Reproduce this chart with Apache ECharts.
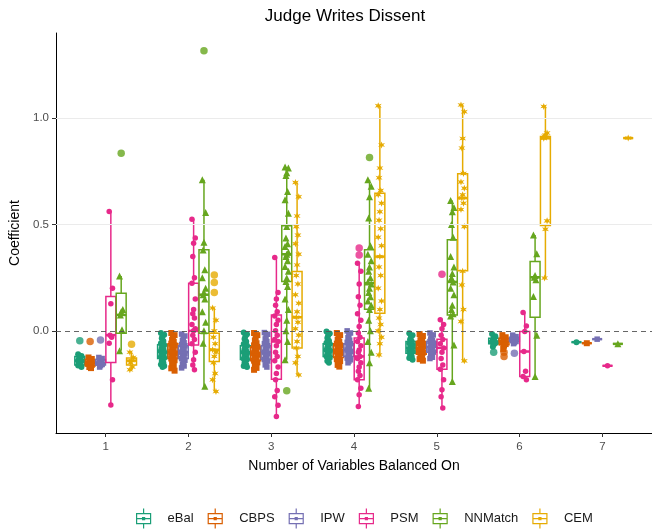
<!DOCTYPE html>
<html><head><meta charset="utf-8">
<script src="https://cdn.jsdelivr.net/npm/echarts@6/dist/echarts.min.js"></script>
<style>html,body{margin:0;padding:0;background:#fff}#c{width:652px;height:532px}</style>
</head><body><div id="c"></div>
<script>
// ---------- data ----------
const categories = [1, 2, 3, 4, 5, 6, 7];
const methods = ['eBal', 'CBPS', 'IPW', 'PSM', 'NNMatch', 'CEM'];
const yTickValues = [0, 0.5, 1.0];
const gridLineValues = [0.5, 1.0];
const refLineValue = 0;

// box stats per category: [lower whisker, Q1, median, Q3, upper whisker]
const eBalBox = [[-0.17,-0.16,-0.14,-0.12,-0.11],[-0.17,-0.13,-0.10,-0.065,-0.01],[-0.17,-0.135,-0.10,-0.07,-0.008],[-0.15,-0.12,-0.09,-0.06,-0.003],[-0.136,-0.105,-0.08,-0.05,-0.011],[-0.075,-0.06,-0.05,-0.035,-0.015],[-0.053,-0.053,-0.053,-0.053,-0.053]];
const CBPSBox = [[-0.175,-0.165,-0.15,-0.135,-0.125],[-0.187,-0.13,-0.10,-0.06,-0.01],[-0.183,-0.14,-0.105,-0.075,-0.01],[-0.168,-0.125,-0.09,-0.06,-0.01],[-0.14,-0.11,-0.08,-0.05,-0.015],[-0.085,-0.065,-0.05,-0.035,-0.02],[-0.058,-0.058,-0.058,-0.058,-0.058]];
const IPWBox = [[-0.17,-0.16,-0.15,-0.135,-0.125],[-0.174,-0.13,-0.10,-0.07,-0.015],[-0.17,-0.135,-0.10,-0.07,-0.008],[-0.15,-0.12,-0.09,-0.06,0.0],[-0.13,-0.10,-0.075,-0.05,-0.01],[-0.06,-0.05,-0.04,-0.03,-0.02],[-0.039,-0.039,-0.039,-0.039,-0.039]];
const PSMBox = [[-0.348,-0.149,-0.02,0.161,0.561],[-0.183,-0.066,0.0,0.224,0.525],[-0.402,-0.227,-0.05,0.075,0.345],[-0.356,-0.23,-0.12,-0.034,0.318],[-0.363,-0.18,-0.08,-0.039,0.052],[-0.23,-0.215,-0.097,-0.003,0.086],[-0.164,-0.164,-0.164,-0.164,-0.164]];
const NNMatchBox = [[-0.093,-0.011,0.075,0.177,0.258],[-0.26,-0.011,0.17,0.381,0.71],[-0.136,0.232,0.36,0.494,0.77],[-0.27,0.102,0.224,0.381,0.71],[-0.238,0.075,0.23,0.428,0.613],[-0.215,0.064,0.252,0.326,0.451],[-0.061,-0.061,-0.061,-0.061,-0.061]];
const CEMBox = [[-0.183,-0.16,-0.14,-0.127,-0.10],[-0.285,-0.144,-0.089,-0.011,0.107],[-0.207,-0.081,0.064,0.279,0.697],[-0.113,0.083,0.349,0.647,1.058],[-0.141,0.283,0.624,0.738,1.062],[0.248,0.495,0.905,0.914,1.055],[0.906,0.906,0.906,0.906,0.906]];

// individual estimates per category
const eBalPoints = [
  [-0.11,-0.118,-0.125,-0.13,-0.135,-0.14,-0.142,-0.148,-0.152,-0.158,-0.163,-0.17],
  [-0.01,-0.018,-0.025,-0.035,-0.048,-0.058,-0.066,-0.072,-0.08,-0.088,-0.094,-0.1,-0.104,-0.11,-0.116,-0.122,-0.127,-0.134,-0.142,-0.15,-0.158,-0.165,-0.17],
  [-0.008,-0.016,-0.026,-0.038,-0.05,-0.062,-0.07,-0.078,-0.086,-0.093,-0.1,-0.106,-0.112,-0.118,-0.125,-0.131,-0.135,-0.142,-0.15,-0.158,-0.165,-0.17],
  [-0.003,-0.012,-0.022,-0.034,-0.046,-0.056,-0.062,-0.07,-0.078,-0.085,-0.09,-0.096,-0.102,-0.108,-0.114,-0.12,-0.127,-0.135,-0.142,-0.15],
  [-0.011,-0.02,-0.03,-0.04,-0.05,-0.058,-0.065,-0.072,-0.08,-0.086,-0.092,-0.098,-0.105,-0.112,-0.12,-0.128,-0.136],
  [-0.015,-0.025,-0.035,-0.042,-0.048,-0.052,-0.058,-0.065,-0.075],
  [-0.053]
];
const CBPSPoints = [
  [-0.125,-0.132,-0.138,-0.145,-0.15,-0.155,-0.16,-0.165,-0.17,-0.175],
  [-0.01,-0.02,-0.03,-0.042,-0.052,-0.06,-0.068,-0.076,-0.085,-0.092,-0.1,-0.106,-0.112,-0.12,-0.126,-0.13,-0.138,-0.146,-0.155,-0.165,-0.176,-0.187],
  [-0.01,-0.02,-0.032,-0.045,-0.058,-0.068,-0.075,-0.083,-0.09,-0.098,-0.105,-0.112,-0.12,-0.128,-0.135,-0.14,-0.148,-0.156,-0.165,-0.174,-0.183],
  [-0.01,-0.02,-0.03,-0.042,-0.052,-0.06,-0.068,-0.076,-0.084,-0.09,-0.097,-0.104,-0.112,-0.12,-0.125,-0.133,-0.142,-0.15,-0.16,-0.168],
  [-0.015,-0.024,-0.034,-0.044,-0.05,-0.058,-0.066,-0.074,-0.08,-0.087,-0.094,-0.102,-0.11,-0.118,-0.126,-0.133,-0.14],
  [-0.02,-0.03,-0.038,-0.045,-0.05,-0.055,-0.062,-0.07,-0.085],
  [-0.058]
];
const IPWPoints = [
  [-0.125,-0.13,-0.136,-0.142,-0.148,-0.152,-0.158,-0.163,-0.17],
  [-0.015,-0.024,-0.034,-0.045,-0.056,-0.064,-0.07,-0.078,-0.086,-0.093,-0.1,-0.106,-0.112,-0.12,-0.126,-0.13,-0.138,-0.147,-0.156,-0.165,-0.174],
  [-0.008,-0.016,-0.026,-0.038,-0.05,-0.06,-0.07,-0.078,-0.086,-0.093,-0.1,-0.107,-0.114,-0.12,-0.128,-0.135,-0.142,-0.15,-0.16,-0.17],
  [0.0,-0.01,-0.02,-0.032,-0.044,-0.054,-0.06,-0.068,-0.076,-0.084,-0.09,-0.097,-0.104,-0.112,-0.12,-0.128,-0.136,-0.143,-0.15],
  [-0.01,-0.019,-0.028,-0.038,-0.046,-0.05,-0.058,-0.066,-0.075,-0.082,-0.09,-0.1,-0.108,-0.116,-0.124,-0.13],
  [-0.02,-0.027,-0.033,-0.038,-0.042,-0.046,-0.05,-0.055,-0.06],
  [-0.039]
];
const PSMPoints = [
  [0.561,0.20,0.127,-0.02,-0.03,-0.058,-0.23,-0.348],
  [0.525,0.436,0.412,0.35,0.25,0.224,0.15,0.1,0.08,0.06,0.03,0.01,0.0,-0.02,-0.04,-0.06,-0.1,-0.136,-0.16,-0.183],
  [0.345,0.18,0.15,0.12,0.09,0.07,0.05,0.03,0.0,-0.02,-0.04,-0.05,-0.07,-0.1,-0.12,-0.14,-0.17,-0.2,-0.23,-0.28,-0.31,-0.35,-0.402],
  [0.318,0.28,0.22,0.16,0.12,0.08,0.05,0.02,-0.01,-0.03,-0.05,-0.07,-0.09,-0.1,-0.12,-0.13,-0.15,-0.17,-0.19,-0.21,-0.23,-0.27,-0.3,-0.356],
  [0.052,0.03,0.01,-0.02,-0.04,-0.06,-0.08,-0.1,-0.13,-0.16,-0.18,-0.23,-0.277,-0.31,-0.363],
  [0.086,0.023,-0.003,-0.097,-0.19,-0.215,-0.23],
  [-0.164]
];
const NNMatchPoints = [
  [0.258,0.10,0.09,0.075,0.005,-0.093],
  [0.71,0.556,0.417,0.38,0.287,0.25,0.2,0.18,0.17,0.15,0.09,0.04,0.0,-0.058,-0.26],
  [0.77,0.765,0.743,0.73,0.655,0.616,0.553,0.49,0.437,0.41,0.396,0.37,0.36,0.349,0.33,0.302,0.28,0.248,0.232,0.208,0.15,0.1,0.05,0.0,-0.05,-0.136],
  [0.71,0.68,0.63,0.53,0.4,0.36,0.33,0.3,0.28,0.25,0.23,0.22,0.2,0.18,0.16,0.14,0.12,0.1,0.05,0.0,-0.05,-0.1,-0.15,-0.27],
  [0.613,0.58,0.56,0.5,0.44,0.35,0.3,0.27,0.25,0.23,0.2,0.17,0.12,0.1,0.08,0.07,-0.066,-0.238],
  [0.451,0.362,0.26,0.252,0.24,0.161,-0.02,-0.215],
  [-0.061]
];
const CEMPoints = [
  [-0.10,-0.125,-0.14,-0.15,-0.17,-0.183],
  [0.107,0.05,0.0,-0.03,-0.06,-0.089,-0.1,-0.12,-0.15,-0.2,-0.23,-0.285],
  [0.697,0.63,0.54,0.49,0.45,0.41,0.36,0.31,0.26,0.22,0.17,0.13,0.09,0.064,0.04,0.01,-0.02,-0.05,-0.08,-0.12,-0.15,-0.207],
  [1.058,0.874,0.765,0.72,0.66,0.64,0.6,0.56,0.52,0.48,0.44,0.4,0.349,0.3,0.26,0.2,0.14,0.1,0.06,0.03,0.0,-0.03,-0.06,-0.113],
  [1.062,1.03,0.904,0.859,0.74,0.7,0.67,0.64,0.624,0.6,0.57,0.49,0.28,0.216,0.1,0.044,-0.141],
  [1.055,0.93,0.92,0.915,0.91,0.905,0.517,0.478,0.248],
  [0.906]
];

// boxplot outliers per category
const eBalOutliers = [[-0.047],[],[],[],[],[-0.10],[]];
const CBPSOutliers = [[-0.05],[],[],[],[],[-0.10,-0.12],[]];
const IPWOutliers = [[-0.043],[],[],[],[],[-0.105],[]];
const PSMOutliers = [[],[],[],[0.39,0.357],[0.266],[],[]];
const NNMatchOutliers = [[0.835],[1.316],[-0.282],[0.815],[],[],[]];
const CEMOutliers = [[-0.063],[0.263,0.227,0.18],[],[],[],[],[]];

// ---------- styling / layout ----------
const colors = ['#1B9E77', '#D95F02', '#7570B3', '#E7298A', '#66A61E', '#E6AB02'];
const boxData = [eBalBox, CBPSBox, IPWBox, PSMBox, NNMatchBox, CEMBox];
const pointData = [eBalPoints, CBPSPoints, IPWPoints, PSMPoints, NNMatchPoints, CEMPoints];
const outlierData = [eBalOutliers, CBPSOutliers, IPWOutliers, PSMOutliers, NNMatchOutliers, CEMOutliers];
const symbols = ['circle', 'rect', 'rect', 'circle', 'triangle',
  'path://M5,0 L6.2,3.2 L9.8,2.2 L7.4,5 L9.8,7.8 L6.2,6.8 L5,10 L3.8,6.8 L0.2,7.8 L2.6,5 L0.2,2.2 L3.8,3.2 Z'];
const symbolSizes = [6, 6, 5.5, 5.5, 7, 7];
const DODGE = 0.125;          // dodge step in category units
const BOX_W = 0.12;           // box width in category units
const JIT = [-0.02, 0.02, 0, -0.01, 0.01];
const FONT = 'Liberation Sans, Arial, sans-serif';

function offsetOf(m) { return (m - 2.5) * DODGE; }

function boxRender(color) {
  return function (params, api) {
    const x = api.value(0);
    const lo = api.coord([x, api.value(1)]);
    const q1 = api.coord([x, api.value(2)]);
    const md = api.coord([x, api.value(3)]);
    const q3 = api.coord([x, api.value(4)]);
    const hi = api.coord([x, api.value(5)]);
    const w = api.size([BOX_W, 0])[0];
    const cx = lo[0];
    const st = { stroke: color, lineWidth: 1.5, fill: null };
    return {
      type: 'group', children: [
        { type: 'line', shape: { x1: cx, y1: hi[1], x2: cx, y2: q3[1] }, style: st },
        { type: 'line', shape: { x1: cx, y1: q1[1], x2: cx, y2: lo[1] }, style: st },
        { type: 'rect', shape: { x: cx - w / 2, y: q3[1], width: w, height: q1[1] - q3[1] }, style: st },
        { type: 'line', shape: { x1: cx - w / 2, y1: md[1], x2: cx + w / 2, y2: md[1] }, style: { stroke: color, lineWidth: 2.5 } }
      ]
    };
  };
}

const series = [];
// reference lines
series.push({
  type: 'scatter', name: '_ref', data: [], silent: true, z: 0,
  markLine: {
    silent: true, symbol: 'none', animation: false, label: { show: false },
    data: gridLineValues.map(v => ({ yAxis: v, lineStyle: { color: '#EBEBEB', width: 1, type: 'solid' } }))
      .concat([{ yAxis: refLineValue, lineStyle: { color: '#555555', width: 0.9, type: [5, 4] } }])
  }
});

methods.forEach((m, mi) => {
  const off = offsetOf(mi);
  series.push({
    type: 'custom', name: m, z: 2,
    itemStyle: { color: colors[mi] },
    renderItem: boxRender(colors[mi]),
    encode: { x: 0, y: [1, 2, 3, 4, 5] },
    data: categories.map((c, ci) => [c + off].concat(boxData[mi][ci]))
  });
  const pts = [];
  categories.forEach((c, ci) => {
    pointData[mi][ci].forEach((v, k) => pts.push([c + off + (pointData[mi][ci].length > 1 ? JIT[k % JIT.length] : 0), v]));
  });
  series.push({
    type: 'scatter', name: m, z: 3, symbol: symbols[mi], symbolSize: symbolSizes[mi],
    itemStyle: { color: colors[mi], opacity: 1 }, data: pts, silent: true
  });
  const outs = [];
  categories.forEach((c, ci) => outlierData[mi][ci].forEach(v => outs.push([c + off, v])));
  series.push({
    type: 'scatter', name: m, z: 3, symbol: 'circle', symbolSize: 7.5,
    itemStyle: { color: colors[mi] }, data: outs, silent: true
  });
});

const legendIcon = 'path://M8,0 L8,5 M1,5 L15,5 L15,15 L1,15 Z M1,10 L15,10 M8,15 L8,20 M7,9 L9,9 L9,11 L7,11 Z';

const chart = echarts.init(document.getElementById('c'), null, { renderer: 'canvas' });
chart.setOption({
  animation: false,
  backgroundColor: '#ffffff',
  title: {
    text: 'Judge Writes Dissent', left: 340, top: 3, textAlign: 'center',
    textStyle: { fontFamily: FONT, fontSize: 17, fontWeight: 'normal', color: '#000000' }
  },
  grid: { left: 56, top: 33, width: 600, height: 400, containLabel: false },
  xAxis: {
    type: 'value', min: 0.4, max: 7.6,
    name: 'Number of Variables Balanced On', nameLocation: 'middle', nameGap: 26,
    nameTextStyle: { fontFamily: FONT, fontSize: 14, color: '#000000' },
    axisLine: { show: true, onZero: false, lineStyle: { color: '#000000', width: 1 } },
    axisTick: { show: true, length: 4, customValues: categories, lineStyle: { color: '#333333' } },
    axisLabel: { customValues: categories, margin: 8, fontFamily: FONT, fontSize: 11.5, color: '#4D4D4D',
      formatter: v => String(Math.round(v)) },
    splitLine: { show: false }
  },
  yAxis: {
    type: 'value', min: -0.48, max: 1.40,
    name: 'Coefficient', nameLocation: 'middle', nameGap: 32, nameRotate: 90,
    nameTextStyle: { fontFamily: FONT, fontSize: 14, color: '#000000' },
    axisLine: { show: true, onZero: false, lineStyle: { color: '#000000', width: 1 } },
    axisTick: { show: true, length: 4, customValues: yTickValues, lineStyle: { color: '#333333' } },
    axisLabel: { customValues: yTickValues, margin: 7, fontFamily: FONT, fontSize: 11.5, color: '#4D4D4D',
      formatter: v => v.toFixed(1) },
    splitLine: { show: false }
  },
  legend: {
    left: 131, top: 503, orient: 'horizontal', itemWidth: 16, itemHeight: 20, itemGap: 14,
    selectedMode: false,
    textStyle: { fontFamily: FONT, fontSize: 13, color: '#1A1A1A', padding: [0, 0, 0, 11] },
    data: methods.map((m, mi) => ({
      name: m, icon: legendIcon,
      itemStyle: { color: 'rgba(0,0,0,0)', borderColor: colors[mi], borderWidth: 1.2 }
    }))
  },
  series: series
});
</script>
</body></html>
